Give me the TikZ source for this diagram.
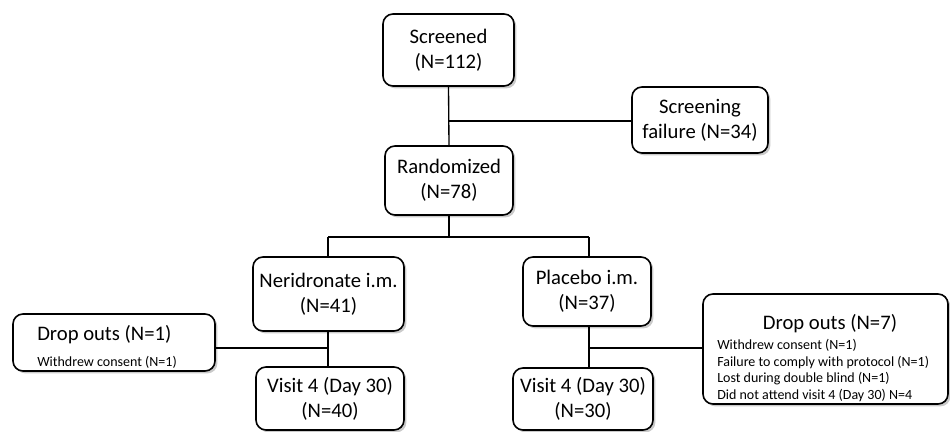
\documentclass[tikz,border=0pt]{standalone}
\usepackage{fontspec}
\setmainfont{Carlito}
\usetikzlibrary{shadows}
\newcommand{\smalltxt}{\fontsize{10.5}{12.3}\selectfont\spaceskip=0pt\xspaceskip=0pt\relax}
\newcommand{\natsp}{\spaceskip=0pt\xspaceskip=0pt\relax}
\tikzset{
  flowbox/.style={draw=black, line width=1.2pt, rounded corners=7.5pt, fill=white,
    align=center, inner sep=0pt,
    font=\fontsize{15.5}{18.8}\selectfont,
    drop shadow={shadow xshift=1.8pt, shadow yshift=-1.8pt, opacity=0.35, fill=black!60}},
  bigtxt/.style={inner sep=0pt, font=\fontsize{15.5}{18.8}\selectfont},
  smalltext/.style={inner sep=0pt, align=left, font=\smalltxt},
  conn/.style={draw=black, line width=1pt},
}
\begin{document}
\begin{tikzpicture}[x=0.75pt, y=-0.75pt]
\useasboundingbox (0,0) rectangle (950,432);
\node[flowbox, minimum width=131*0.75pt, minimum height=72*0.75pt] (scr) at (448.5,50) {Screened\\(N=112)};
\node[flowbox, minimum width=136*0.75pt, minimum height=66*0.75pt] (fail) at (700,120) {Screening\\\natsp failure (N=34)};
\node[flowbox, minimum width=128*0.75pt, minimum height=69*0.75pt] (rand) at (449,180.5) {Randomized\\(N=78)};
\node[flowbox, minimum width=151*0.75pt, minimum height=74*0.75pt] (ner) at (328.5,294) {\natsp Neridronate i.m.\\(N=41)};
\node[flowbox, minimum width=128*0.75pt, minimum height=69*0.75pt] (pla) at (587,291.5) {\natsp Placebo i.m.\\(N=37)};
\node[flowbox, minimum width=148*0.75pt, minimum height=63*0.75pt] (visl) at (330,398.5) {\natsp Visit 4 (Day 30)\\(N=40)};
\node[flowbox, minimum width=140*0.75pt, minimum height=62*0.75pt] (visr) at (583,399) {\natsp Visit 4 (Day 30)\\(N=30)};
% left drop-out box
\node[flowbox, minimum width=202*0.75pt, minimum height=57*0.75pt] (dropl) at (114,342.5) {};
\node[bigtxt, anchor=west] (droplhead) at (37,335) {Drop outs (N=1)};
\node[smalltext, anchor=west] (dropltxt) at (37,362) {\smalltxt Withdrew consent (N=1)};
% right drop-out box
\node[flowbox, minimum width=245*0.75pt, minimum height=110*0.75pt] (dropr) at (825.5,349) {};
\node[bigtxt] (droprhead) at (830,324) {Drop outs (N=7)};
\node[smalltext, anchor=west] (droprtxt) at (717,370.5)
  {\smalltxt Withdrew consent (N=1)\\Failure to comply with protocol (N=1)\\Lost during double blind (N=1)\\Did not attend visit 4 (Day 30) N=4};
\coordinate (b1) at (449,121);
\coordinate (b2) at (449,237);
\coordinate (bl) at (328,237);
\coordinate (br) at (589,237);
\coordinate (jl) at (328,348);
\coordinate (jr) at (589,348);
\draw[conn] (scr.south) -- (rand.north);
\draw[conn] (b1) -- (fail.west |- b1);
\draw[conn] (rand.south) -- (b2);
\draw[conn] (bl) -- (br);
\draw[conn] (bl) -- (bl |- ner.north);
\draw[conn] (br) -- (br |- pla.north);
\draw[conn] (jl |- ner.south) -- (jl |- visl.north);
\draw[conn] (dropl.east |- jl) -- (jl);
\draw[conn] (jr |- pla.south) -- (jr |- visr.north);
\draw[conn] (dropr.west |- jr) -- (jr);
\end{tikzpicture}
\end{document}
